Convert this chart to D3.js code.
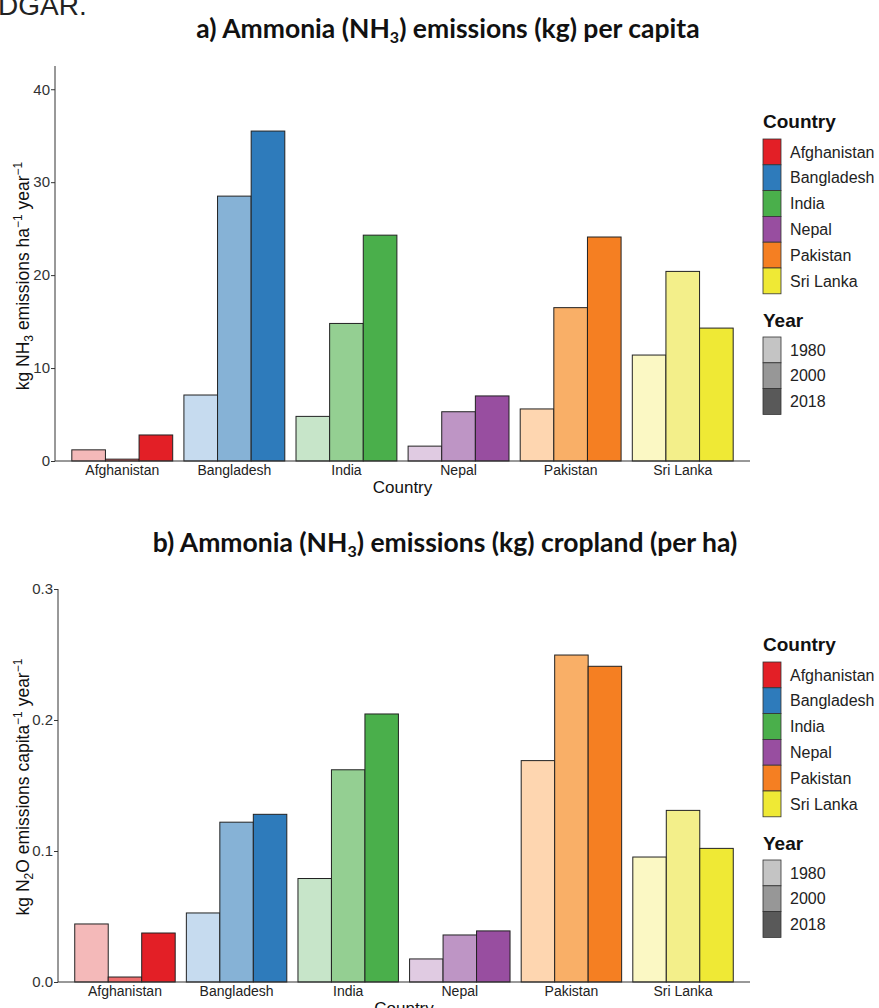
<!DOCTYPE html>
<html><head><meta charset="utf-8">
<script src="https://cdn.jsdelivr.net/npm/d3@7"></script>
<style>body{margin:0;background:#fff}svg{display:block}</style>
</head><body>
<script>
const countries = ["Afghanistan","Bangladesh","India","Nepal","Pakistan","Sri Lanka"];
const years = ["1980","2000","2018"];
// panel a: kg NH3 per capita (as drawn)
const valuesA = {
  "1980": [1.2, 7.1, 4.8, 1.6, 5.6, 11.4],
  "2000": [0.2, 28.5, 14.8, 5.3, 16.5, 20.4],
  "2018": [2.8, 35.5, 24.3, 7.0, 24.1, 14.3]
};
// panel b: per ha cropland
const valuesB = {
  "1980": [0.0443, 0.0527, 0.079, 0.0176, 0.169, 0.0954],
  "2000": [0.0038, 0.122, 0.162, 0.0359, 0.2496, 0.131],
  "2018": [0.0374, 0.128, 0.2046, 0.039, 0.241, 0.102]
};
const ticksA = [0,10,20,30,40];
const ticksB = [0,0.1,0.2,0.3];
const countryColors = ["#e31f26","#2e7bbb","#4aaf4b","#984ea0","#f57f22","#efe935"];
const shadeColors = {
  "1980": ["#f4b9b9","#c6dbef","#c7e5c9","#e0cbe2","#fed6b0","#fbf8c4"],
  "2000": ["#ee6e6e","#86b2d6","#94cf92","#be95c5","#f9af67","#f3ef8a"],
  "2018": countryColors
};
const yearLegendColors = ["#c4c4c4","#979797","#595959"];

const W = 879, H = 1008;
const svg = d3.select("body").append("svg").attr("width", W).attr("height", H);
const FONT = "'Liberation Sans', Arial, sans-serif";

svg.append("text").attr("x", -2).attr("y", 15).attr("font-family", FONT)
  .attr("font-size", 28).attr("fill", "#222").text("DGAR.");

function panel(cfg) {
  const g = svg.append("g");
  const x = d3.scaleBand().domain(countries).range([cfg.x0, cfg.x1]).paddingInner(0.1).paddingOuter(0.15);
  const xs = d3.scaleBand().domain(years).range([0, x.bandwidth()]).padding(0);
  const y = d3.scaleLinear().domain(cfg.domain).range([cfg.yBottom, cfg.yTop]);

  // title
  const t = g.append("text").attr("x", cfg.titleX).attr("y", cfg.titleY).attr("text-anchor", "middle")
    .attr("font-family", "Lato, 'Open Sans', sans-serif").attr("font-weight", "bold").attr("font-size", 26.5).attr("fill", "#111");
  t.append("tspan").text(cfg.title[0]);
  t.append("tspan").attr("font-size", 16).attr("dy", 5).text("3");
  t.append("tspan").attr("dy", -5).text(cfg.title[1]);

  // bars
  years.forEach(yr => {
    g.selectAll(null).data(countries).enter().append("rect")
      .attr("x", c => x(c) + xs(yr))
      .attr("width", xs.bandwidth())
      .attr("y", (c, i) => y(cfg.values[yr][i]))
      .attr("height", (c, i) => y(0) - y(cfg.values[yr][i]))
      .attr("fill", (c, i) => shadeColors[yr][i])
      .attr("stroke", "#222").attr("stroke-width", 1);
  });

  // y axis
  const ya = g.append("g").attr("transform", `translate(${cfg.x0},0)`)
    .call(d3.axisLeft(y).tickValues(cfg.ticks).tickSize(4).tickFormat(cfg.fmt));
  ya.select(".domain").attr("d", `M0,${cfg.yTop}V${cfg.yBottom}`).attr("stroke", "#333");
  ya.selectAll(".tick line").attr("stroke", "#333");
  ya.selectAll(".tick text").attr("font-family", FONT).attr("font-size", 15).attr("fill", "#333").attr("x", -5);

  // x axis
  const xa = g.append("g").attr("transform", `translate(0,${cfg.yBottom})`)
    .call(d3.axisBottom(x).tickSize(0));
  xa.select(".domain").attr("d", `M${cfg.x0},0H${cfg.x1}`).attr("stroke", "#333");
  xa.selectAll(".tick text").attr("font-family", FONT).attr("font-size", 14).attr("fill", "#222").attr("dy", "0.85em").attr("y", 2);

  g.append("text").attr("x", (cfg.x0 + cfg.x1) / 2).attr("y", cfg.yBottom + 32).attr("text-anchor", "middle")
    .attr("font-family", FONT).attr("font-size", 17).attr("fill", "#111").text("Country");

  // y label
  const yl = g.append("text").attr("transform", `translate(29,${cfg.yLabelC}) rotate(-90)`).attr("text-anchor", "middle")
    .attr("font-family", FONT).attr("font-size", 17.5).attr("fill", "#111");
  cfg.ylab.forEach(p => {
    const ts = yl.append("tspan").text(p.t);
    if (p.s === "sub") ts.attr("font-size", 12).attr("dy", 4);
    else if (p.s === "sup") ts.attr("font-size", 12).attr("dy", -7);
    else if (p.s === "back") ts.attr("dy", p.d);
  });

  // legend
  const lg = g.append("g").attr("transform", `translate(763,${cfg.legY})`);
  lg.append("text").attr("x", 0).attr("y", 0).attr("font-family", FONT).attr("font-weight", "bold")
    .attr("font-size", 19).attr("fill", "#111").text("Country");
  countries.forEach((c, i) => {
    lg.append("rect").attr("x", 0).attr("y", 11 + i * 25.8).attr("width", 18).attr("height", 25.8)
      .attr("fill", countryColors[i]).attr("stroke", "#333").attr("stroke-width", 0.8);
    lg.append("text").attr("x", 27).attr("y", 11 + i * 25.8 + 18.5).attr("font-family", FONT)
      .attr("font-size", 16).attr("fill", "#222").text(c);
  });
  lg.append("text").attr("x", 0).attr("y", 199).attr("font-family", FONT).attr("font-weight", "bold")
    .attr("font-size", 19).attr("fill", "#111").text("Year");
  years.forEach((yr, i) => {
    lg.append("rect").attr("x", 0).attr("y", 209 + i * 25.8).attr("width", 18).attr("height", 25.8)
      .attr("fill", yearLegendColors[i]).attr("stroke", "#333").attr("stroke-width", 0.8);
    lg.append("text").attr("x", 27).attr("y", 209 + i * 25.8 + 18.5).attr("font-family", FONT)
      .attr("font-size", 16).attr("fill", "#222").text(yr);
  });
}

panel({
  title: ["a) Ammonia (NH", ") emissions (kg) per capita"], titleX: 448, titleY: 38,
  values: valuesA, domain: [0, 42.5], ticks: ticksA, fmt: d3.format("d"),
  x0: 55, x1: 750, yTop: 66, yBottom: 461, yLabelC: 276, legY: 128,
  ylab: [{t:"kg NH"},{t:"3",s:"sub"},{t:" emissions ha",s:"back",d:-4},{t:"−1",s:"sup"},{t:" year",s:"back",d:7},{t:"−1",s:"sup"}]
});
panel({
  title: ["b) Ammonia (NH", ") emissions (kg) cropland (per ha)"], titleX: 445, titleY: 552,
  values: valuesB, domain: [0, 0.3], ticks: ticksB, fmt: d3.format(".1f"),
  x0: 58, x1: 750, yTop: 589, yBottom: 982, yLabelC: 787, legY: 651,
  ylab: [{t:"kg N"},{t:"2",s:"sub"},{t:"O emissions capita",s:"back",d:-4},{t:"−1",s:"sup"},{t:" year",s:"back",d:7},{t:"−1",s:"sup"}]
});
</script>
</body></html>
